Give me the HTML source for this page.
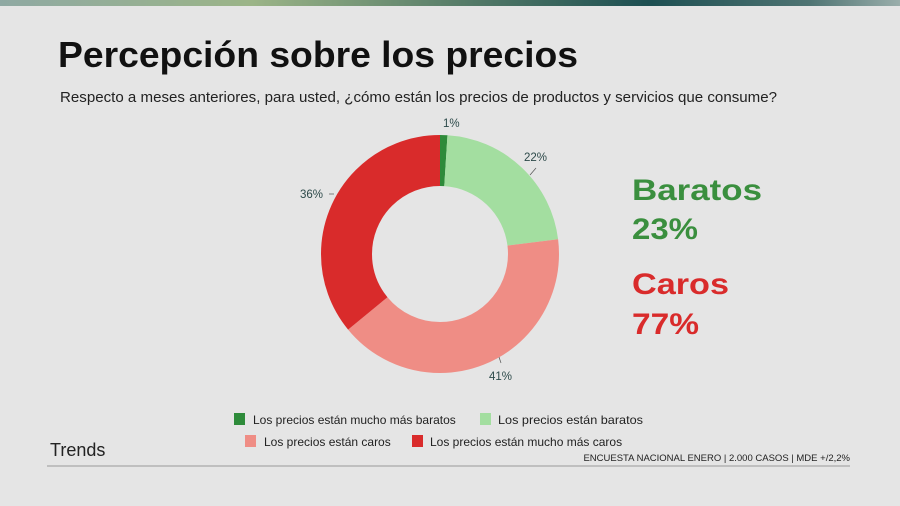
<!DOCTYPE html>
<html><head><meta charset="utf-8"><style>
html,body{margin:0;padding:0;background:#e5e5e5;}
svg{display:block;font-family:"Liberation Sans",sans-serif;}
</style></head><body>
<svg width="900" height="506" viewBox="0 0 900 506" xmlns="http://www.w3.org/2000/svg">
<defs>
<linearGradient id="tb" x1="0" x2="1" y1="0" y2="0">
<stop offset="0" stop-color="#8fa9a3"/>
<stop offset="0.28" stop-color="#9bb487"/>
<stop offset="0.5" stop-color="#5a7f6a"/>
<stop offset="0.72" stop-color="#1d4f52"/>
<stop offset="0.9" stop-color="#4f7473"/>
<stop offset="1" stop-color="#9aaeab"/>
</linearGradient>
</defs>
<rect width="900" height="506" fill="#e5e5e5"/>
<rect width="900" height="6" fill="url(#tb)"/>
<text x="58" y="67" font-size="36" font-weight="bold" fill="#111" textLength="520" lengthAdjust="spacingAndGlyphs">Percepción sobre los precios</text>
<text x="60" y="102" font-size="14.5" fill="#222" textLength="717" lengthAdjust="spacingAndGlyphs">Respecto a meses anteriores, para usted, ¿cómo están los precios de productos y servicios que consume?</text>
<g transform="rotate(-90 440 254)" fill="none" stroke-width="51">
<circle cx="440" cy="254" r="93.5" stroke="#2e8b3a" stroke-dasharray="5.9 600" stroke-dashoffset="0"/>
<circle cx="440" cy="254" r="93.5" stroke="#a3dea0" stroke-dasharray="129.3 600" stroke-dashoffset="-5.9"/>
<circle cx="440" cy="254" r="93.5" stroke="#ef8d85" stroke-dasharray="240.9 600" stroke-dashoffset="-135.2"/>
<circle cx="440" cy="254" r="93.5" stroke="#d92b2b" stroke-dasharray="211.5 600" stroke-dashoffset="-376.1"/>
</g>
<g font-size="11.5" fill="#2d4a4a">
<text x="443" y="127">1%</text>
<text x="524" y="161">22%</text>
<text x="300" y="198">36%</text>
<text x="489" y="380">41%</text>
</g>
<g stroke="#555" stroke-width="0.7">
<line x1="536" y1="168" x2="530" y2="175"/>
<line x1="329" y1="194" x2="334" y2="194"/>
<line x1="499" y1="357" x2="501" y2="363"/>
</g>
<g font-size="30" font-weight="bold">
<text x="632" y="200" fill="#3a8f3e" textLength="130" lengthAdjust="spacingAndGlyphs">Baratos</text>
<text x="632" y="239" fill="#3a8f3e" textLength="66" lengthAdjust="spacingAndGlyphs">23%</text>
<text x="632" y="294" fill="#d92b2b" textLength="97" lengthAdjust="spacingAndGlyphs">Caros</text>
<text x="632" y="334" fill="#d92b2b" textLength="67" lengthAdjust="spacingAndGlyphs">77%</text>
</g>
<g font-size="12" fill="#222">
<rect x="234" y="413" width="11" height="12" fill="#2e8b3a"/>
<text x="253" y="424">Los precios están mucho más baratos</text>
<rect x="480" y="413" width="11" height="12" fill="#a3dea0"/>
<text x="498" y="424" textLength="145" lengthAdjust="spacingAndGlyphs">Los precios están baratos</text>
<rect x="245" y="435" width="11" height="12" fill="#ef8d85"/>
<text x="264" y="446">Los precios están caros</text>
<rect x="412" y="435" width="11" height="12" fill="#d92b2b"/>
<text x="430" y="446">Los precios están mucho más caros</text>
</g>
<text x="50" y="456" font-size="18" fill="#222">Trends</text>
<text x="850" y="461" font-size="9.5" fill="#222" text-anchor="end">ENCUESTA NACIONAL ENERO | 2.000 CASOS | MDE +/2,2%</text>
<line x1="47" y1="466" x2="850" y2="466" stroke="#999" stroke-width="1"/>
</svg>
</body></html>
